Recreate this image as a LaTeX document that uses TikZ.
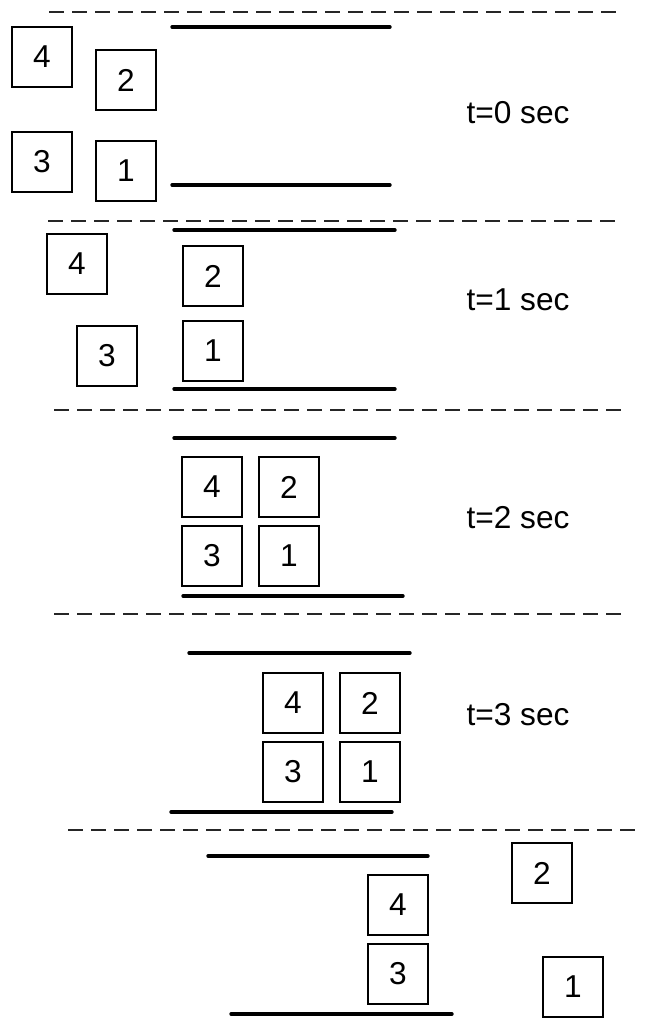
\documentclass[tikz,border=0pt]{standalone}
\usepackage{fontspec}
\setmainfont{Liberation Sans}
\usetikzlibrary{positioning}

\begin{document}
\begin{tikzpicture}[
  x=0.025cm, y=-0.025cm,
  font=\fontsize{22.5}{26}\selectfont,
  blk/.style={draw, line width=1pt, minimum width=1.5cm, minimum height=1.5cm, inner sep=0pt},
  wall/.style={line width=2.4pt, line cap=round},
  sep/.style={dash pattern=on 10.67pt off 5.69pt, line width=1.3pt, black!85},
  tlabel/.style={anchor=center}
]
\useasboundingbox (0,0) rectangle (646,1031);

% separators
\draw[sep] (49,12) -- (617,12);
\draw[sep] (48,221) -- (616,221);
\draw[sep] (54,410) -- (622,410);
\draw[sep] (54,614) -- (622,614);
\draw[sep] (68,830) -- (636,830);

% t = 0
\draw[wall] (172,27) -- (390,27);
\draw[wall] (172,185) -- (390,185);
\node[blk] (a4) at (42,57) {4};
\node[blk] (a2) at (126,80) {2};
\node[blk] (a3) at (42,162) {3};
\node[blk] (a1) at (126,171) {1};
\node[tlabel] (ta) at (518,113) {t=0 sec};

% t = 1
\draw[wall] (174,230) -- (395,230);
\draw[wall] (174,389) -- (395,389);
\node[blk] (b4) at (77,264) {4};
\node[blk] (b2) at (213,276) {2};
\node[blk] (b3) at (107,356) {3};
\node[blk] (b1) at (213,351) {1};
\node[tlabel] (tb) at (518,300) {t=1 sec};

% t = 2
\draw[wall] (174,438) -- (395,438);
\draw[wall] (183,596) -- (403,596);
\node[blk] (c4) at (212,487) {4};
\node[blk, right=0.39cm of c4] (c2) {2};
\node[blk, below=0.185cm of c4] (c3) {3};
\node[blk, right=0.39cm of c3] (c1) {1};
\node[tlabel] (tc) at (518,518) {t=2 sec};

% t = 3
\draw[wall] (189,653) -- (410,653);
\draw[wall] (171,812) -- (392,812);
\node[blk] (d4) at (293,703) {4};
\node[blk, right=0.39cm of d4] (d2) {2};
\node[blk, below=0.19cm of d4] (d3) {3};
\node[blk, right=0.39cm of d3] (d1) {1};
\node[tlabel] (td) at (518,715) {t=3 sec};

% t = 4
\draw[wall] (208,856) -- (428,856);
\draw[wall] (231,1014) -- (452,1014);
\node[blk] (e4) at (398,905) {4};
\node[blk, below=0.185cm of e4] (e3) {3};
\node[blk] (e2) at (542,873) {2};
\node[blk] (e1) at (573,987) {1};
\end{tikzpicture}
\end{document}
